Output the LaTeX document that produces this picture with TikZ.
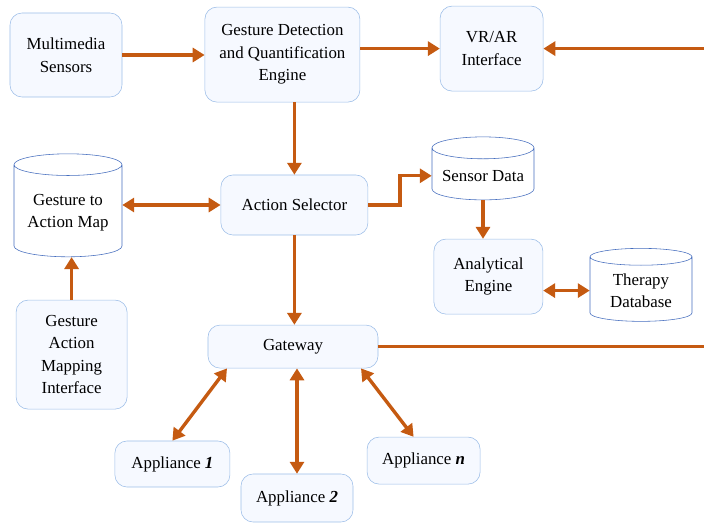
\documentclass[tikz,border=0pt]{standalone}
\usepackage{fontspec}
\setmainfont{Liberation Serif}
\usetikzlibrary{shapes.geometric,arrows.meta}
\definecolor{linkorange}{RGB}{197,90,17}
\definecolor{boxfill}{RGB}{246,249,255}
\definecolor{boxline}{RGB}{157,190,232}
\definecolor{dbline}{RGB}{70,110,190}
\begin{document}
\begin{tikzpicture}[
        font=\fontsize{12}{16}\selectfont,
        block/.style={draw=boxline,fill=boxfill,rounded corners=0.3cm,align=center,inner sep=2pt},
        store/.style={cylinder,shape border rotate=90,aspect=0.25,draw=dbline,fill=white,align=center,inner sep=2pt},
        flow/.style={draw=linkorange,line width=2.4pt,-{Triangle[length=8.5pt,width=10pt]}},
        both/.style={flow,{Triangle[length=8.5pt,width=10pt]}-{Triangle[length=8.5pt,width=10pt]}}
    ]
    \useasboundingbox (0,0) rectangle (17.6,13.075);

    % top row
    \node [block,minimum width=2.8cm,minimum height=2.1cm] (mms) at (1.65,11.70) {Multimedia\\Sensors};
    \node [block,minimum width=3.875cm,minimum height=2.375cm] (gde) at (7.06,11.71) {Gesture Detection\\and Quantification\\Engine};
    \node [block,minimum width=2.575cm,minimum height=2.125cm] (vrar) at (12.29,11.86) {VR/AR\\Interface};
    \coordinate (vrin) at (17.6,11.86);

    % middle
    \node [store,minimum width=2.7cm,minimum height=2.575cm] (gam) at (1.70,7.76) {Gesture to\\Action Map};
    \node [block,minimum width=3.675cm,minimum height=1.5cm] (sel) at (7.36,7.95) {Action Selector};
    \node [store,minimum width=2.55cm,minimum height=1.575cm] (sens) at (12.075,8.68) {Sensor Data};
    \node [block,minimum width=2.725cm,minimum height=1.875cm] (ana) at (12.21,6.16) {Analytical\\Engine};
    \node [store,minimum width=2.55cm,minimum height=1.825cm] (thr) at (16.025,5.81) {Therapy\\Database};
    \node [block,minimum width=2.775cm,minimum height=2.725cm] (gami) at (1.79,4.21) {Gesture\\Action\\Mapping\\Interface};

    % gateway and appliances
    \node [block,minimum width=4.25cm,minimum height=1.075cm] (gw) at (7.325,4.41) {Gateway};
    \coordinate (gwout) at (17.6,4.41);
    \node [block,minimum width=2.875cm,minimum height=1.15cm] (app1) at (4.31,1.475) {Appliance \textbf{\textit{1}}};
    \node [block,minimum width=2.8cm,minimum height=1.2cm] (app2) at (7.425,0.625) {Appliance \textbf{\textit{2}}};
    \node [block,minimum width=2.825cm,minimum height=1.175cm] (appn) at (10.59,1.56) {Appliance \textbf{\textit{n}}};

    \draw [flow] (mms.east) -- (mms.east -| gde.west);
    \draw [flow] (gde.east |- vrar) -- (vrar.west);
    \draw [flow] (vrin) -- (vrar.east);
    \draw [flow] (sel.north |- gde.south) -- (sel.north);
    \draw [both] (gam.east |- sel) -- (sel.west);
    \draw [flow] (sel.east) -- ++(0.8,0) |- (sens.west);
    \draw [flow] (sens.south) -- (sens.south |- ana.north);
    \draw [both] (thr.west -| ana.east) -- (thr.west);
    \draw [flow] (gami.north) -- (gami.north |- gam.south);
    \draw [flow] (sel.south) -- (sel.south |- gw.north);
    \draw [draw=linkorange,line width=2.4pt] (gw.east) -- (gwout);
    \draw [both] ([xshift=-1.65cm]gw.south) -- (app1.north);
    \draw [both] (app2.north |- gw.south) -- (app2.north);
    \draw [both] ([xshift=1.7cm]gw.south) -- ([xshift=-0.25cm]appn.north);
\end{tikzpicture}
\end{document}
